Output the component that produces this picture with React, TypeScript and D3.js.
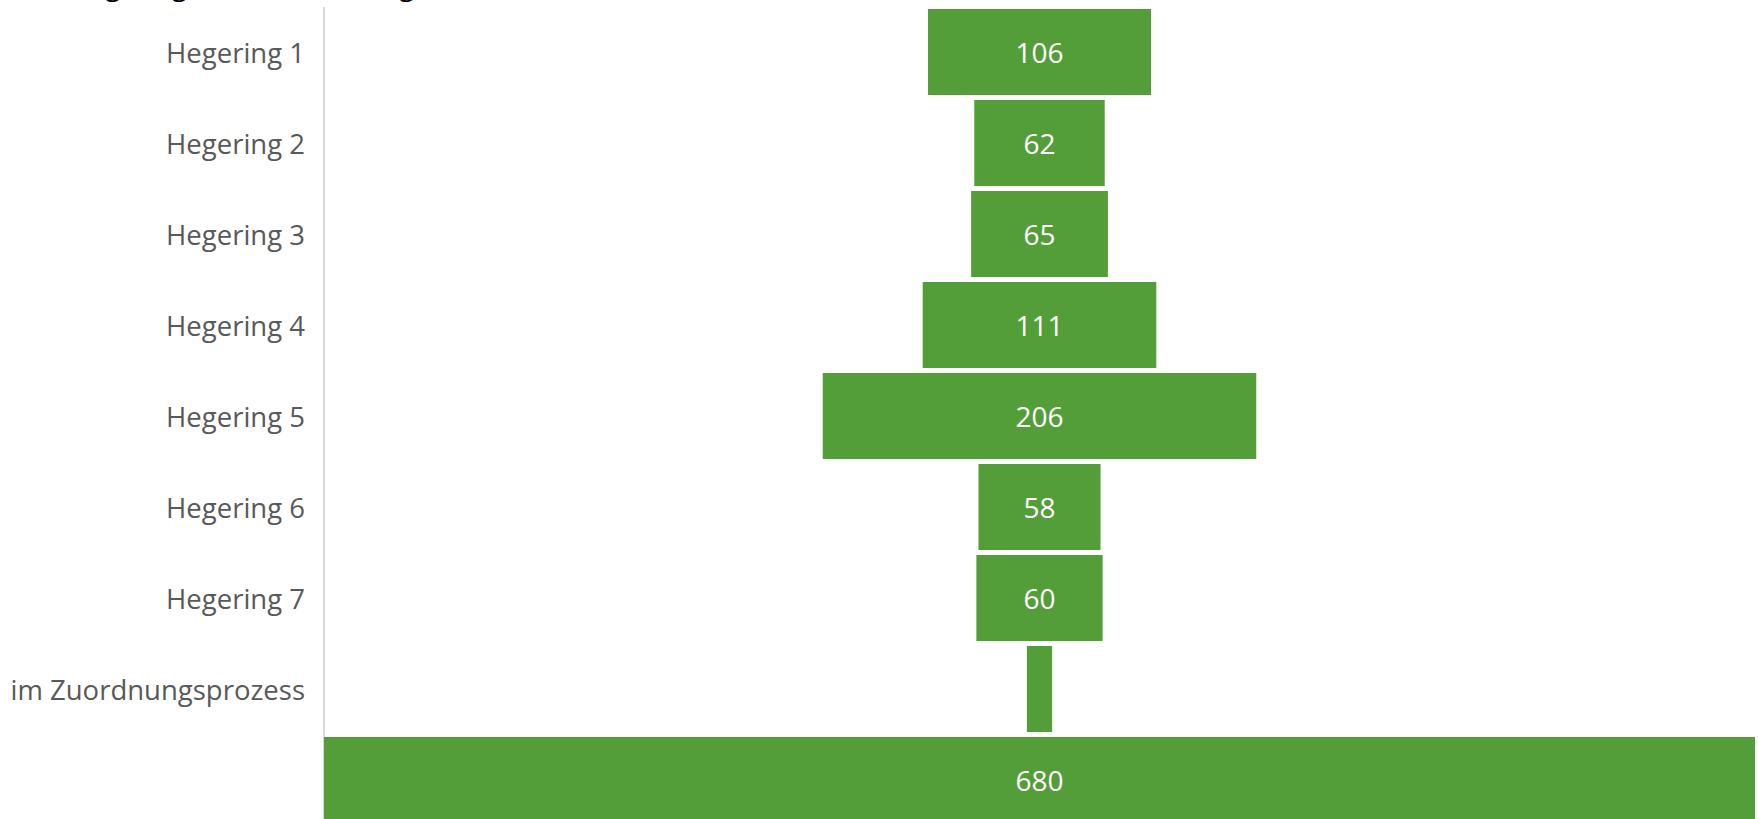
import React from "react";
import * as d3 from "d3";

const categories = [
  "Hegering 1",
  "Hegering 2",
  "Hegering 3",
  "Hegering 4",
  "Hegering 5",
  "Hegering 6",
  "Hegering 7",
  "im Zuordnungsprozess",
  "",
];
const values = [106, 62, 65, 111, 206, 58, 60, 12, 680];
const titleText = "Alle Hegeringe und Zuordnung";

const W = 1758;
const H = 819;
const GREEN = "#549E39";
const FONT = "'Open Sans', sans-serif";

export default function App() {
  const maxV = d3.max(values) as number;
  const x = d3.scaleLinear().domain([-maxV / 2, maxV / 2]).range([324, 1755]);
  const y = d3
    .scaleBand<number>()
    .domain(d3.range(values.length))
    .range([9, 823])
    .paddingInner(5 / 91)
    .paddingOuter(0);
  const bw = y.bandwidth();

  return (
    <svg
      width={W}
      height={H}
      style={{ position: "absolute", left: 0, top: 0, background: "#fff" }}
      fontFamily={FONT}
    >
      <text x={14} y={-5} fontSize={28} fill="#000">
        {titleText}
      </text>
      <line x1={324} x2={324} y1={7} y2={H} stroke="#D9D9D9" strokeWidth={2} />
      {values.map((v, i) => {
        const y0 = y(i) as number;
        const cy = y0 + bw / 2;
        return (
          <g key={i}>
            <rect
              x={x(-v / 2)}
              y={y0}
              width={x(v / 2) - x(-v / 2)}
              height={bw}
              fill={GREEN}
            />
            {v >= 20 && (
              <text
                x={x(0)}
                y={cy}
                dy="0.4em"
                textAnchor="middle"
                fontSize={28}
                fill="#fff"
              >
                {v}
              </text>
            )}
            {categories[i] && (
              <text
                x={305}
                y={cy}
                dy="0.4em"
                textAnchor="end"
                fontSize={27.5}
                fill="#595959"
              >
                {categories[i]}
              </text>
            )}
          </g>
        );
      })}
    </svg>
  );
}
